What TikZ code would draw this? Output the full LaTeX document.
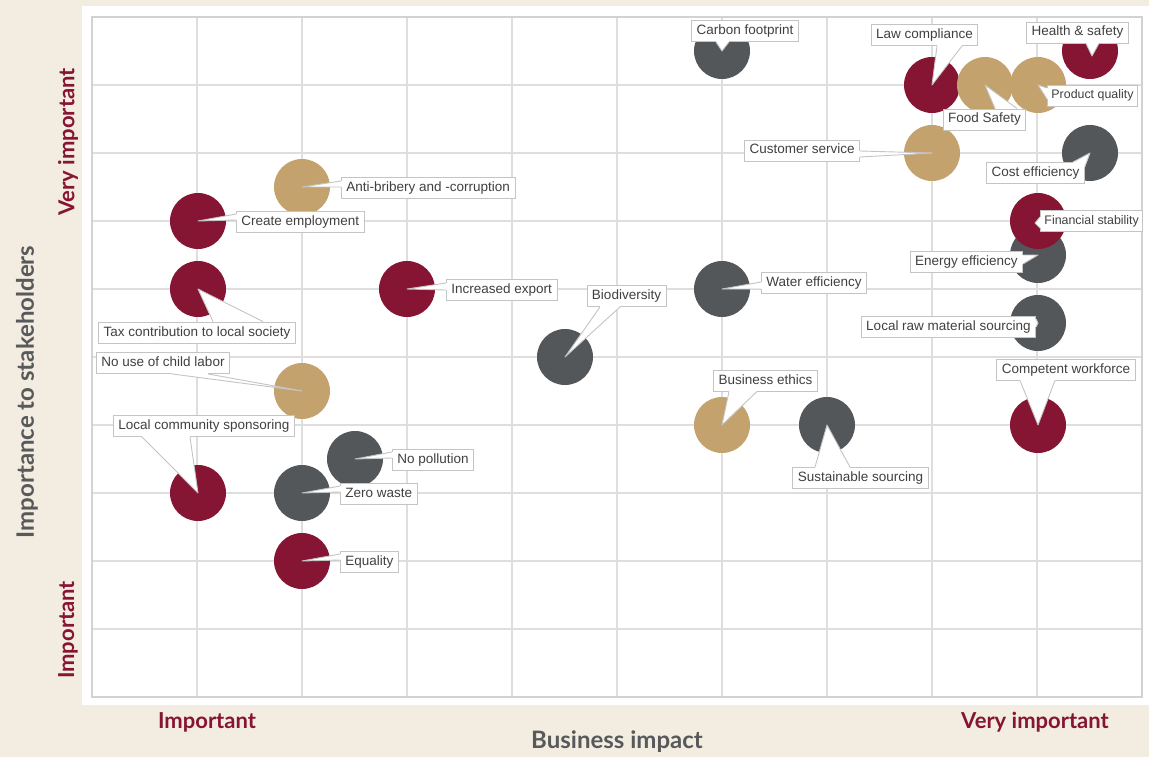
\documentclass[tikz,border=0pt]{standalone}
\usepackage{fontspec}
\setmainfont{Liberation Sans}
\newfontfamily\titlefont{Lato}
\definecolor{bgbeige}{HTML}{F3ECE1}
\definecolor{cred}{HTML}{861433}
\definecolor{ctan}{HTML}{C4A26E}
\definecolor{cgrey}{HTML}{53575A}
\definecolor{gridc}{HTML}{DEDEDE}
\definecolor{framec}{HTML}{D2D2D2}
\definecolor{boxc}{HTML}{C4C4C4}
\definecolor{txtc}{HTML}{404040}
\definecolor{titlegrey}{HTML}{58595B}
\newcommand\wedgeto[3]{%
  \fill[white] #1 -- #2 -- #3 -- cycle;
  \draw[white, line width=1.6pt] #2 -- #3;
  \draw[wline] #2 -- #1 -- #3;
}
\begin{document}
\begin{tikzpicture}[x=1pt,y=-1pt,
  gridline/.style={draw=gridc, line width=1.2pt},
  frameline/.style={draw=framec, line width=1.5pt},
  bub/.style={circle, fill=#1, minimum size=56pt, inner sep=0pt},
  lbl/.style={draw=boxc, fill=white, line width=0.9pt, inner xsep=5pt, inner ysep=4pt,
    text height=10pt, text depth=3pt, text=txtc, font=\fontsize{13.5}{16}\selectfont},
  narrowlbl/.style={lbl, inner xsep=4pt, font=\fontsize{12.4}{16}\selectfont},
  wline/.style={draw=boxc, line width=0.9pt, line join=round},
  axred/.style={text=cred, font=\titlefont\bfseries\fontsize{22}{26}\selectfont},
  axgrey/.style={text=titlegrey, font=\titlefont\bfseries\fontsize{24}{28}\selectfont}]
\useasboundingbox (0,0) rectangle (1149,757);
\fill[bgbeige] (0,0) rectangle (1149,757);
\fill[white] (82,6) rectangle (1149,705);
% grid
\foreach \i in {1,...,9} {
  \draw[gridline] ({92+105*\i},17) -- ({92+105*\i},697);
  \draw[gridline] (92,{17+68*\i}) -- (1142,{17+68*\i});
}
\draw[frameline] (92,17) rectangle (1142,697);
% bubbles
\node[bub=cgrey] (b1) at (722,51) {};
\node[bub=cred] (b2) at (932,85) {};
\node[bub=ctan] (b3) at (985,85) {};
\node[bub=ctan] (b4) at (1038,85) {};
\node[bub=cred] (b5) at (1090,51) {};
\node[bub=ctan] (b6) at (932,153) {};
\node[bub=cgrey] (b7) at (1090,153) {};
\node[bub=cgrey] (b9) at (1038,255) {};
\node[bub=cred] (b8) at (1038,221) {};
\node[bub=cgrey] (b10) at (722,289) {};
\node[bub=cgrey] (b11) at (1038,323) {};
\node[bub=cred] (b12) at (1038,425) {};
\node[bub=cgrey] (b13) at (827,425) {};
\node[bub=ctan] (b14) at (722,425) {};
\node[bub=cgrey] (b15) at (565,357) {};
\node[bub=cred] (b16) at (407,289) {};
\node[bub=ctan] (b17) at (302,187) {};
\node[bub=cred] (b18) at (198,221) {};
\node[bub=cred] (b19) at (198,289) {};
\node[bub=ctan] (b20) at (302,391) {};
\node[bub=cred] (b21) at (198,493) {};
\node[bub=cgrey] (b22) at (355,459) {};
\node[bub=cgrey] (b23) at (302,493) {};
\node[bub=cred] (b24) at (302,561) {};
% labels and callouts
\node[lbl] (l1) at (745,31) {Carbon footprint};
\wedgeto{(b1.center)}{(716,0 |- l1.south)}{(729,0 |- l1.south)}
\node[lbl] (l2) at (924.5,35) {Law compliance};
\wedgeto{(b2.center)}{(937,0 |- l2.south)}{(962,0 |- l2.south)}
\node[lbl] (l3) at (984.5,119.5) {Food Safety};
\wedgeto{(b3.center)}{(995,0 |- l3.north)}{(1017,0 |- l3.north)}
\node[narrowlbl, anchor=west] (l4) at (1047,95.5) {Product quality};
\wedgeto{(b4.center)}{(l4.west |- 0,88)}{(l4.west |- 0,99)}
\node[lbl] (l5) at (1077.5,32.5) {Health \& safety};
\wedgeto{([shift={(2,5)}]b5.center)}{(1086,0 |- l5.south)}{(1099,0 |- l5.south)}
\node[lbl, anchor=east] (l6) at (860,150.5) {Customer service};
\wedgeto{(b6.center)}{(l6.east |- 0,151)}{(l6.east |- 0,157)}
\node[lbl] (l7) at (1035.5,173) {Cost efficiency};
\wedgeto{(b7.center)}{(1073,0 |- l7.north)}{(l7.east |- 0,167)}
\node[narrowlbl, anchor=west] (l8) at (1040,221) {Financial stability};
\wedgeto{([shift={(-3,2)}]b8.center)}{(l8.west |- 0,217)}{(l8.west |- 0,228)}
\node[lbl, anchor=east] (l9) at (1023,261.5) {Energy efficiency};
\wedgeto{(b9.center)}{(l9.east |- 0,255)}{(l9.east |- 0,264)}
\node[lbl, anchor=west] (l10) at (761,282.5) {Water efficiency};
\wedgeto{(b10.center)}{(l10.west |- 0,282)}{(l10.west |- 0,289)}
\node[lbl, anchor=east] (l11) at (1036,327) {Local raw material sourcing};
\wedgeto{(b11.center)}{(l11.east |- 0,319)}{(l11.east |- 0,327)}
\node[lbl] (l12) at (1066,369.5) {Competent workforce};
\wedgeto{(b12.center)}{(1020,0 |- l12.south)}{(1055,0 |- l12.south)}
\node[lbl] (l13) at (860.5,478) {Sustainable sourcing};
\wedgeto{(b13.center)}{(815,0 |- l13.north)}{(850,0 |- l13.north)}
\node[lbl] (l14) at (765.5,380.5) {Business ethics};
\wedgeto{(b14.center)}{(729,0 |- l14.south)}{(757,0 |- l14.south)}
\node[lbl] (l15) at (626.5,296) {Biodiversity};
\wedgeto{(b15.center)}{(600,0 |- l15.south)}{(620,0 |- l15.south)}
\node[lbl, anchor=west] (l16) at (446,290) {Increased export};
\wedgeto{(b16.center)}{(l16.west |- 0,283)}{(l16.west |- 0,290)}
\node[lbl, anchor=west] (l17) at (341,187.5) {Anti-bribery and -corruption};
\wedgeto{(b17.center)}{(l17.west |- 0,181)}{(l17.west |- 0,187)}
\node[lbl, anchor=west] (l18) at (236,221.5) {Create employment};
\wedgeto{(b18.center)}{(l18.west |- 0,214)}{(l18.west |- 0,220)}
\node[lbl] (l19) at (197,332.5) {Tax contribution to local society};
\wedgeto{(b19.center)}{(213,0 |- l19.north)}{(263,0 |- l19.north)}
\node[lbl] (l20) at (163,363) {No use of child labor};
\wedgeto{(b20.center)}{(172,0 |- l20.south)}{(208,0 |- l20.south)}
\node[lbl] (l21) at (204,426) {Local community sponsoring};
\wedgeto{(b21.center)}{(142,0 |- l21.south)}{(190,0 |- l21.south)}
\node[lbl, anchor=west] (l22) at (392,459.5) {No pollution};
\wedgeto{(b22.center)}{(l22.west |- 0,452)}{(l22.west |- 0,458)}
\node[lbl, anchor=west] (l23) at (340,493.5) {Zero waste};
\wedgeto{(b23.center)}{(l23.west |- 0,486)}{(l23.west |- 0,492)}
\node[lbl, anchor=west] (l24) at (340,561.5) {Equality};
\wedgeto{(b24.center)}{(l24.west |- 0,554)}{(l24.west |- 0,560)}
% axis titles
\node[axred, rotate=90] (yv) at (68,142) {Very important};
\node[axred, rotate=90] (yi) at (68,630) {Important};
\node[axgrey, rotate=90] (yt) at (27,392) {Importance to stakeholders};
\node[axred] (xi) at (207,722) {Important};
\node[axred] (xv) at (1035,722) {Very important};
\node[axgrey] (xt) at (617,742) {Business impact};
\end{tikzpicture}
\end{document}
